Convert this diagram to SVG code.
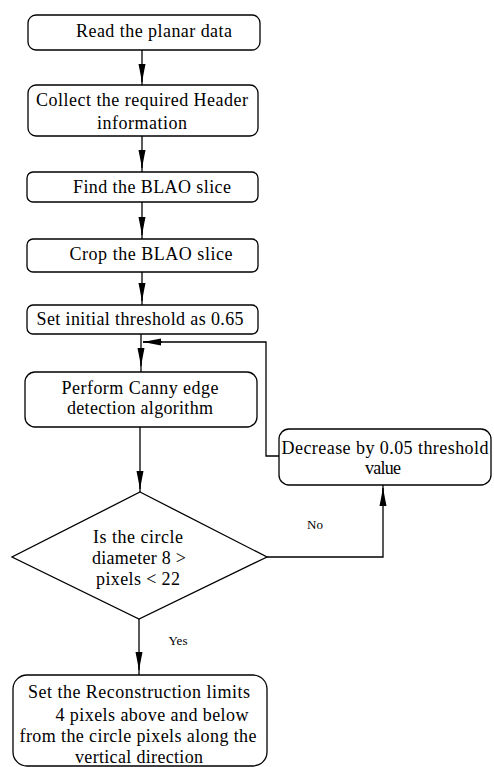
<svg xmlns="http://www.w3.org/2000/svg" width="494" height="767" viewBox="0 0 494 767">
<defs>
<marker id="ah" viewBox="0 0 18 10" refX="18" refY="5" markerWidth="18" markerHeight="10" markerUnits="userSpaceOnUse" orient="auto">
<path d="M0,1.5 L18,5 L0,8.5 Z" fill="#000"/>
</marker>
</defs>
<style>
.n{fill:#fff;stroke:#000;stroke-width:1.3}
.c{fill:none;stroke:#000;stroke-width:1.3}
</style>
<rect width="494" height="767" fill="#fff"/>
<g id="connectors">
<path class="c" d="M142,50 L142,85"/><path class="c" d="M142,64 L142,82" marker-end="url(#ah)"/>
<path class="c" d="M142,136 L142,172"/><path class="c" d="M142,150 L142,168" marker-end="url(#ah)"/>
<path class="c" d="M142,202 L142,239"/><path class="c" d="M142,217 L142,235" marker-end="url(#ah)"/>
<path class="c" d="M142,272 L142,305"/><path class="c" d="M142,283 L142,301" marker-end="url(#ah)"/>
<path class="c" d="M141,334 L141,372"/><path class="c" d="M141,348 L141,366" marker-end="url(#ah)"/>
<path class="c" d="M140,427 L140,492"/><path class="c" d="M140,471 L140,489" marker-end="url(#ah)"/>
<path class="c" d="M139,619 L139,675"/><path class="c" d="M139,652 L139,670" marker-end="url(#ah)"/>
<path class="c" d="M267,557 L383,557 L383,485"/><path class="c" d="M383,506 L383,488" marker-end="url(#ah)"/>
<path class="c" d="M279,456 L266,456 L266,342 L143,342"/><path class="c" d="M162,342 L143,342" marker-end="url(#ah)"/>
<text x="178" y="645" font-family="Liberation Serif, DejaVu Serif, serif" font-size="13" text-anchor="middle">Yes</text>
<text x="315" y="529" font-family="Liberation Serif, DejaVu Serif, serif" font-size="13" text-anchor="middle">No</text>
</g>
<g id="n1">
<rect class="n" x="28" y="15" width="232" height="35" rx="8"/>
<text x="154" y="37" font-family="Liberation Serif, DejaVu Serif, serif" font-size="18" text-anchor="middle" textLength="156" lengthAdjust="spacing">Read the planar data</text>
</g>
<g id="n2">
<rect class="n" x="28" y="85" width="230" height="51" rx="8"/>
<text x="142" y="106" font-family="Liberation Serif, DejaVu Serif, serif" font-size="18" text-anchor="middle" textLength="212" lengthAdjust="spacing">Collect the required Header</text>
<text x="142" y="129" font-family="Liberation Serif, DejaVu Serif, serif" font-size="18" text-anchor="middle" textLength="90" lengthAdjust="spacing">information</text>
</g>
<g id="n3">
<rect class="n" x="27" y="172" width="231" height="30" rx="6"/>
<text x="152" y="193" font-family="Liberation Serif, DejaVu Serif, serif" font-size="18" text-anchor="middle" textLength="158" lengthAdjust="spacing">Find the BLAO slice</text>
</g>
<g id="n4">
<rect class="n" x="27" y="239" width="231" height="33" rx="6"/>
<text x="151" y="260" font-family="Liberation Serif, DejaVu Serif, serif" font-size="18" text-anchor="middle" textLength="163" lengthAdjust="spacing">Crop the BLAO slice</text>
</g>
<g id="n5">
<rect class="n" x="27" y="305" width="231" height="29" rx="6"/>
<text x="140" y="325" font-family="Liberation Serif, DejaVu Serif, serif" font-size="18" text-anchor="middle" textLength="207" lengthAdjust="spacing">Set initial threshold as 0.65</text>
</g>
<g id="n6">
<rect class="n" x="25" y="372" width="232" height="55" rx="10"/>
<text x="140" y="394" font-family="Liberation Serif, DejaVu Serif, serif" font-size="18" text-anchor="middle" textLength="157" lengthAdjust="spacing">Perform Canny edge</text>
<text x="140" y="414" font-family="Liberation Serif, DejaVu Serif, serif" font-size="18" text-anchor="middle" textLength="146" lengthAdjust="spacing">detection algorithm</text>
</g>
<g id="n7">
<polygon class="n" points="140,492 267,557 139,619 12,557"/>
<text x="138" y="543" font-family="Liberation Serif, DejaVu Serif, serif" font-size="18" text-anchor="middle" textLength="90" lengthAdjust="spacing">Is the circle</text>
<text x="139" y="564" font-family="Liberation Serif, DejaVu Serif, serif" font-size="18" text-anchor="middle" textLength="94" lengthAdjust="spacing">diameter 8 &gt;</text>
<text x="138" y="585" font-family="Liberation Serif, DejaVu Serif, serif" font-size="18" text-anchor="middle" textLength="84" lengthAdjust="spacing">pixels &lt; 22</text>
</g>
<g id="n8">
<rect class="n" x="279" y="429" width="212" height="56" rx="10"/>
<text x="385" y="454" font-family="Liberation Serif, DejaVu Serif, serif" font-size="18" text-anchor="middle" textLength="207" lengthAdjust="spacing">Decrease by 0.05 threshold</text>
<text x="383" y="474" font-family="Liberation Serif, DejaVu Serif, serif" font-size="18" text-anchor="middle" textLength="36" lengthAdjust="spacing">value</text>
</g>
<g id="n9">
<rect class="n" x="13" y="675" width="254" height="91" rx="14"/>
<text x="139" y="698" font-family="Liberation Serif, DejaVu Serif, serif" font-size="18" text-anchor="middle" textLength="222" lengthAdjust="spacing">Set the Reconstruction limits</text>
<text x="152" y="721" font-family="Liberation Serif, DejaVu Serif, serif" font-size="18" text-anchor="middle" textLength="193" lengthAdjust="spacing">4 pixels above and below</text>
<text x="138" y="742" font-family="Liberation Serif, DejaVu Serif, serif" font-size="18" text-anchor="middle" textLength="237" lengthAdjust="spacing">from the circle pixels along the</text>
<text x="139" y="763" font-family="Liberation Serif, DejaVu Serif, serif" font-size="18" text-anchor="middle" textLength="128" lengthAdjust="spacing">vertical direction</text>
</g>
</svg>
